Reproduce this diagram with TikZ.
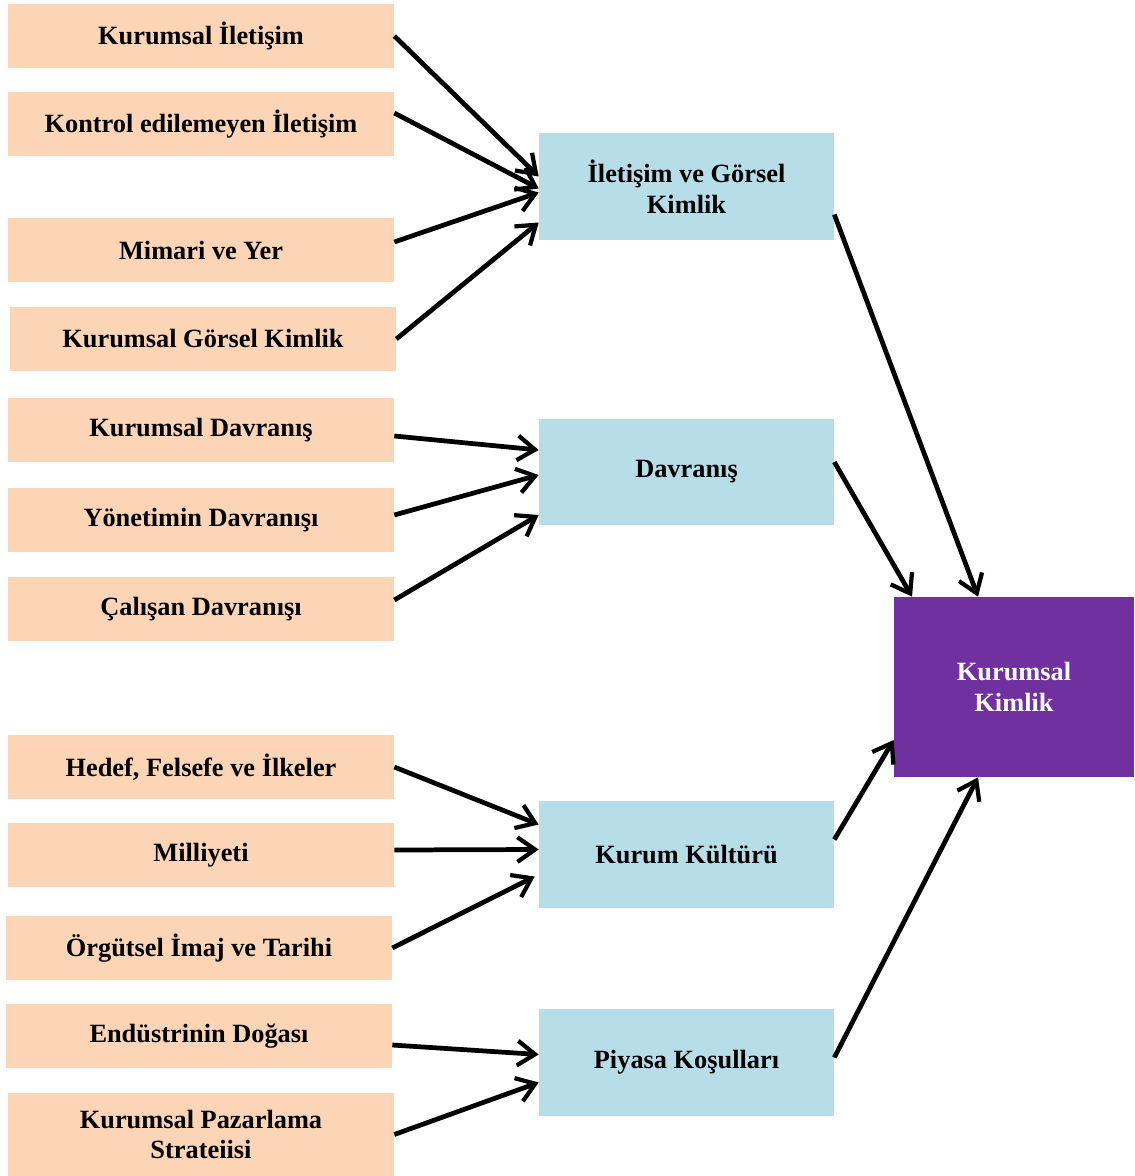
\documentclass[tikz,border=0pt]{standalone}
\usepackage{fontspec}
\setmainfont{Liberation Serif}
\usetikzlibrary{arrows.meta,calc}
\definecolor{peach}{HTML}{FBD5B5}
\definecolor{lightblue}{HTML}{B7DDE8}
\definecolor{mor}{HTML}{7030A0}
\begin{document}
\begin{tikzpicture}[x=0.02cm,y=-0.02cm,
  kaynak/.style={fill=peach,minimum width=7.72cm,minimum height=1.28cm,align=center,font=\fontsize{15}{17.6}\selectfont\bfseries},
  boyut/.style={fill=lightblue,minimum width=5.9cm,minimum height=2.14cm,align=center,font=\fontsize{15}{17.6}\selectfont\bfseries},
  ok/.style={-{Straight Barb[length=10pt,width=14pt,line width=2.4pt]},line width=2.7pt}]
\useasboundingbox (0,0) rectangle (1134,1176);
\node[kaynak] (k1) at (201,36) {Kurumsal İletişim};
\node[kaynak] (k2) at (201,124) {Kontrol edilemeyen İletişim};
\node[kaynak] (k3) at (201,250) {Mimari ve Yer};
\node[kaynak] (k4) at (203,339) {Kurumsal Görsel Kimlik};
\node[kaynak] (k5) at (201,430) {Kurumsal Davranış};
\node[kaynak] (k6) at (201,520) {Yönetimin Davranışı};
\node[kaynak] (k7) at (201,609) {Çalışan Davranışı};
\node[kaynak] (k8) at (201,767) {Hedef, Felsefe ve İlkeler};
\node[kaynak] (k9) at (201,855) {Milliyeti};
\node[kaynak] (k10) at (199,948) {Örgütsel İmaj ve Tarihi};
\node[kaynak] (k11) at (199,1036) {Endüstrinin Doğası};
\node[kaynak,minimum height=1.66cm] (k12) at (201,1134.5) {Kurumsal Pazarlama\\Strateiisi};
\node[boyut] (ig) at (686.5,186.5) {İletişim ve Görsel\\Kimlik};
\node[boyut] (dv) at (686.5,472) {Davranış};
\node[boyut] (kk) at (686.5,854.5) {Kurum Kültürü};
\node[boyut] (pk) at (686.5,1062.5) {Piyasa Koşulları};
\node[fill=mor,text=white,minimum width=4.8cm,minimum height=3.6cm,align=center,font=\fontsize{15}{17.6}\selectfont\bfseries] (kim) at (1014,687) {Kurumsal\\Kimlik};
% kaynaklar -> boyutlar
\draw[ok] (k1.east) -- ($(ig.west)+(0,-10)$);
\draw[ok] ($(k2.east)+(0,-11)$) -- ($(ig.west)+(0,2)$);
\draw[ok] ($(k3.east)+(0,-8)$) -- ($(ig.west)+(0,6)$);
\draw[ok] (k4.east) -- ($(ig.west)+(0,36)$);
\draw[ok] ($(k5.east)+(0,6)$) -- ($(dv.west)+(0,-22)$);
\draw[ok] ($(k6.east)+(0,-5)$) -- ($(dv.west)+(0,3)$);
\draw[ok] ($(k7.east)+(0,-9)$) -- ($(dv.west)+(0,43)$);
\draw[ok] (k8.east) -- ($(kk.west)+(0,-30)$);
\draw[ok] ($(k9.east)+(0,-5)$) -- ($(kk.west)+(0,-5)$);
\draw[ok] (k10.east) -- ($(kk.west)+(-4,22)$);
\draw[ok] ($(k11.east)+(0,9)$) -- ($(pk.west)+(0,-8)$);
\draw[ok] (k12.east) -- ($(pk.west)+(0,20)$);
% boyutlar -> kurumsal kimlik
\draw[ok] ($(ig.east)+(0,28)$) -- ($(kim.north)+(-36,0)$);
\draw[ok] ($(dv.east)+(0,-10)$) -- ($(kim.north)+(-102,0)$);
\draw[ok] ($(kk.east)+(0,-15)$) -- ($(kim.west)+(0,53)$);
\draw[ok] ($(pk.east)+(0,-5)$) -- ($(kim.south)+(-36,0)$);
\end{tikzpicture}
\end{document}
